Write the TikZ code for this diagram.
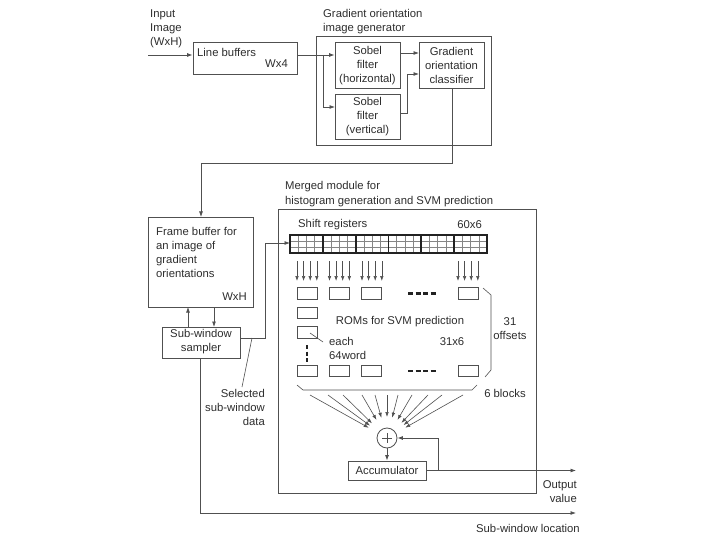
\documentclass[tikz,border=0pt]{standalone}
\usepackage{fontspec}
\setmainfont{Liberation Sans}
\usetikzlibrary{arrows.meta,calc}
\definecolor{txt}{HTML}{2E2E2E}
\definecolor{ln}{HTML}{505050}
\definecolor{thk}{HTML}{222222}
\begin{document}
\begin{tikzpicture}[x=1pt,y=-1pt,
  every node/.style={font=\fontsize{11.3}{14}\selectfont, text=txt, inner sep=0pt},
  box/.style={draw=ln, line width=0.8pt, rectangle, inner sep=0pt},
  rom/.style={draw=ln, line width=0.7pt, rectangle, minimum width=20pt, minimum height=11.5pt},
  wire/.style={draw=ln, line width=0.8pt},
  arr/.style={draw=ln, line width=0.8pt, -{Latex[length=5.5pt,width=4pt]}},
  farr/.style={draw=ln, line width=0.6pt, -{Latex[length=5pt,width=3.6pt]}},
  dotsline/.style={draw=thk, line width=2.6pt, dash pattern=on 5pt off 2.5pt}]
\useasboundingbox[fill=white] (0,0) rectangle (720,540);

% ---------- top part ----------
\node[align=left, anchor=north west] (inp) at (150,10) {Input\\Image\\(WxH)};
\node[box, minimum width=104pt, minimum height=32pt] (lb) at (245,58) {};
\node[anchor=west] (lbt) at (197,52) {Line buffers};
\node[anchor=east] (lbw) at (288,64) {Wx4};

\node[box, minimum width=175pt, minimum height=109pt] (gog) at (403.5,90.5) {};
\node[align=left, anchor=north west] (gogt) at (323,9.5) {Gradient orientation\\image generator};
\node[box, minimum width=65pt, minimum height=46pt] (sh) at (367.5,65) {};
\node[align=center] (sht) at (367.5,65.5) {Sobel\\filter\\(horizontal)};
\node[box, minimum width=65pt, minimum height=45pt] (sv) at (367.5,116.5) {};
\node[align=center] (svt) at (367.5,117) {Sobel\\filter\\(vertical)};
\node[box, minimum width=65pt, minimum height=46pt] (gc) at (451.5,65) {};
\node[align=center] (gct) at (451.5,65.5) {Gradient\\orientation\\classifier};

\coordinate (inS) at (148,55);
\draw[arr] (inS) -- (inS -| lb.west);
\coordinate (jn) at (323,55);
\draw[wire] (lb.east |- jn) -- (jn);
\draw[arr] (jn) -- (jn -| sh.west);
\draw[arr] (jn) -- (323,107) -- (335,107);
\draw[arr] (400,53) -- (419,53);
\draw[arr] (400,113) -- (407,113) -- (407,74) -- (419,74);

% ---------- frame buffer / sampler ----------
\node[box, minimum width=105pt, minimum height=90pt] (fb) at (200.5,262) {};
\node[align=left, anchor=north west] (fbt) at (156,227.5) {Frame buffer for\\an image of\\gradient\\orientations};
\node[anchor=east] (fbw) at (247,297) {WxH};
\draw[arr] (452,88) -- (452,163) -- (201,163) -- (201,217);

\node[box, minimum width=78pt, minimum height=31pt] (sws) at (201,342.5) {};
\node[align=center] (swst) at (201,342) {Sub-window\\sampler};
\draw[arr] (188,327) -- (188,307);
\draw[arr] (214,307) -- (214,327);

% ---------- merged module ----------
\node[box, minimum width=258pt, minimum height=284pt] (mm) at (407,351) {};
\node[align=left, anchor=north west, font=\fontsize{11.3}{14.8}\selectfont] (mmt) at (285,181) {Merged module for\\histogram generation and SVM prediction};

\node[anchor=west] (srt) at (298,225) {Shift registers};
\node[anchor=east] (srn) at (482,225) {60x6};
\node[minimum width=197pt, minimum height=18pt] (sr) at (388.5,244) {};
\foreach \b in {0,...,5}{
  \pgfmathsetmacro{\xa}{290+\b*32.833}
  \foreach \c in {1,2,3}{
    \draw[ln!70, line width=0.5pt] ({\xa+\c*8.2},235) -- ({\xa+\c*8.2},253);
  }
}
\draw[ln!70, line width=0.5pt] (290,241) -- (487,241);
\draw[ln!70, line width=0.5pt] (290,247) -- (487,247);
\foreach \b in {1,...,5}{
  \draw[thk, line width=1.7pt] ({290+\b*32.833},235) -- ({290+\b*32.833},253);
}
\draw[thk, line width=2.2pt] (290,235) rectangle (487,253);

\draw[arr] (240,338) -- (265,338) -- (265,243) -- (290,243);

% arrows from shift registers
\foreach \gx in {297,329.5,362,458}{
  \foreach \k in {0,1,2,3}{
    \draw[farr] ({\gx+\k*6.6},261) -- ({\gx+\k*6.6},281);
  }
}

% ROMs
\node[rom] (ra1) at (307,293.5) {};
\node[rom] (ra2) at (339,293.5) {};
\node[rom] (ra3) at (371,293.5) {};
\node[rom] (ra6) at (468,293.5) {};
\node[rom] (rb1) at (307,313) {};
\node[rom] (rc1) at (307,332.5) {};
\node[rom] (rz1) at (307,371) {};
\node[rom] (rz2) at (339,371) {};
\node[rom] (rz3) at (371,371) {};
\node[rom] (rz6) at (468,371) {};
\coordinate (dA) at (408,293.5);
\coordinate (dB) at (436,293.5);
\draw[dotsline] (dA) -- (dB);
\coordinate (dC) at (408,371);
\coordinate (dD) at (436,371);
\draw[dotsline] (dC) -- (dD);
\coordinate (dE) at (307,345);
\coordinate (dF) at (307,363);
\draw[dotsline, dash pattern=on 4pt off 2.5pt] (dE) -- (dF);

\node (romt) at (400,322) {ROMs for SVM prediction};
\node[anchor=west, align=left] (eacht) at (329,348.5) {each\\64word};
\draw[ln, line width=0.6pt] (310,333) -- (323,342);
\node (r31) at (452,342) {31x6};
\node[align=center] (offt) at (510,329) {31\\offsets};
\draw[ln, line width=0.6pt] (483,288) -- (491,295) -- (491,370) -- (485,377);
\draw[ln, line width=0.6pt] (297,385) -- (303,390) -- (472,390) -- (477,385);
\node (blkt) at (505,393) {6 blocks};

% sum and accumulator
\node[circle, draw=ln, line width=0.8pt, minimum size=20pt] (sum) at (387,438) {};
\draw[ln, line width=0.6pt] (382,438) -- (392,438) (387,433) -- (387,443);
\foreach \sx [count=\i] in {310,328,343,362,375,387,398,412,428,442,463}{
  \coordinate (f\i) at (\sx,395);
  \draw[farr] (f\i) -- ($(sum.center)!21pt!(f\i)$);
}
\node[box, minimum width=78pt, minimum height=19pt] (acc) at (387,470.5) {};
\node (acct) at (387,470) {Accumulator};
\draw[arr] (sum.south) -- (acc.north);
\coordinate (fbk) at (438,470.5);
\draw[wire] (acc.east) -- (fbk);
\draw[arr] (fbk) -- (438,438) -- (sum.east);
\coordinate (outE) at (576,470.5);
\draw[arr] (fbk) -- (outE);
\node[align=right, anchor=north east] (outt) at (577,480) {Output\\value};

% sampler outputs
\coordinate (locE) at (576,513);
\draw[arr] (sws.south -| 200,0) -- (200,513) -- (locE);
\node[anchor=east] (loct) at (580,528) {Sub-window location};
\node[align=right, anchor=north east] (selt) at (265,389) {Selected\\sub-window\\data};
\draw[ln, line width=0.6pt] (252,338) -- (242,387);
\end{tikzpicture}
\end{document}
